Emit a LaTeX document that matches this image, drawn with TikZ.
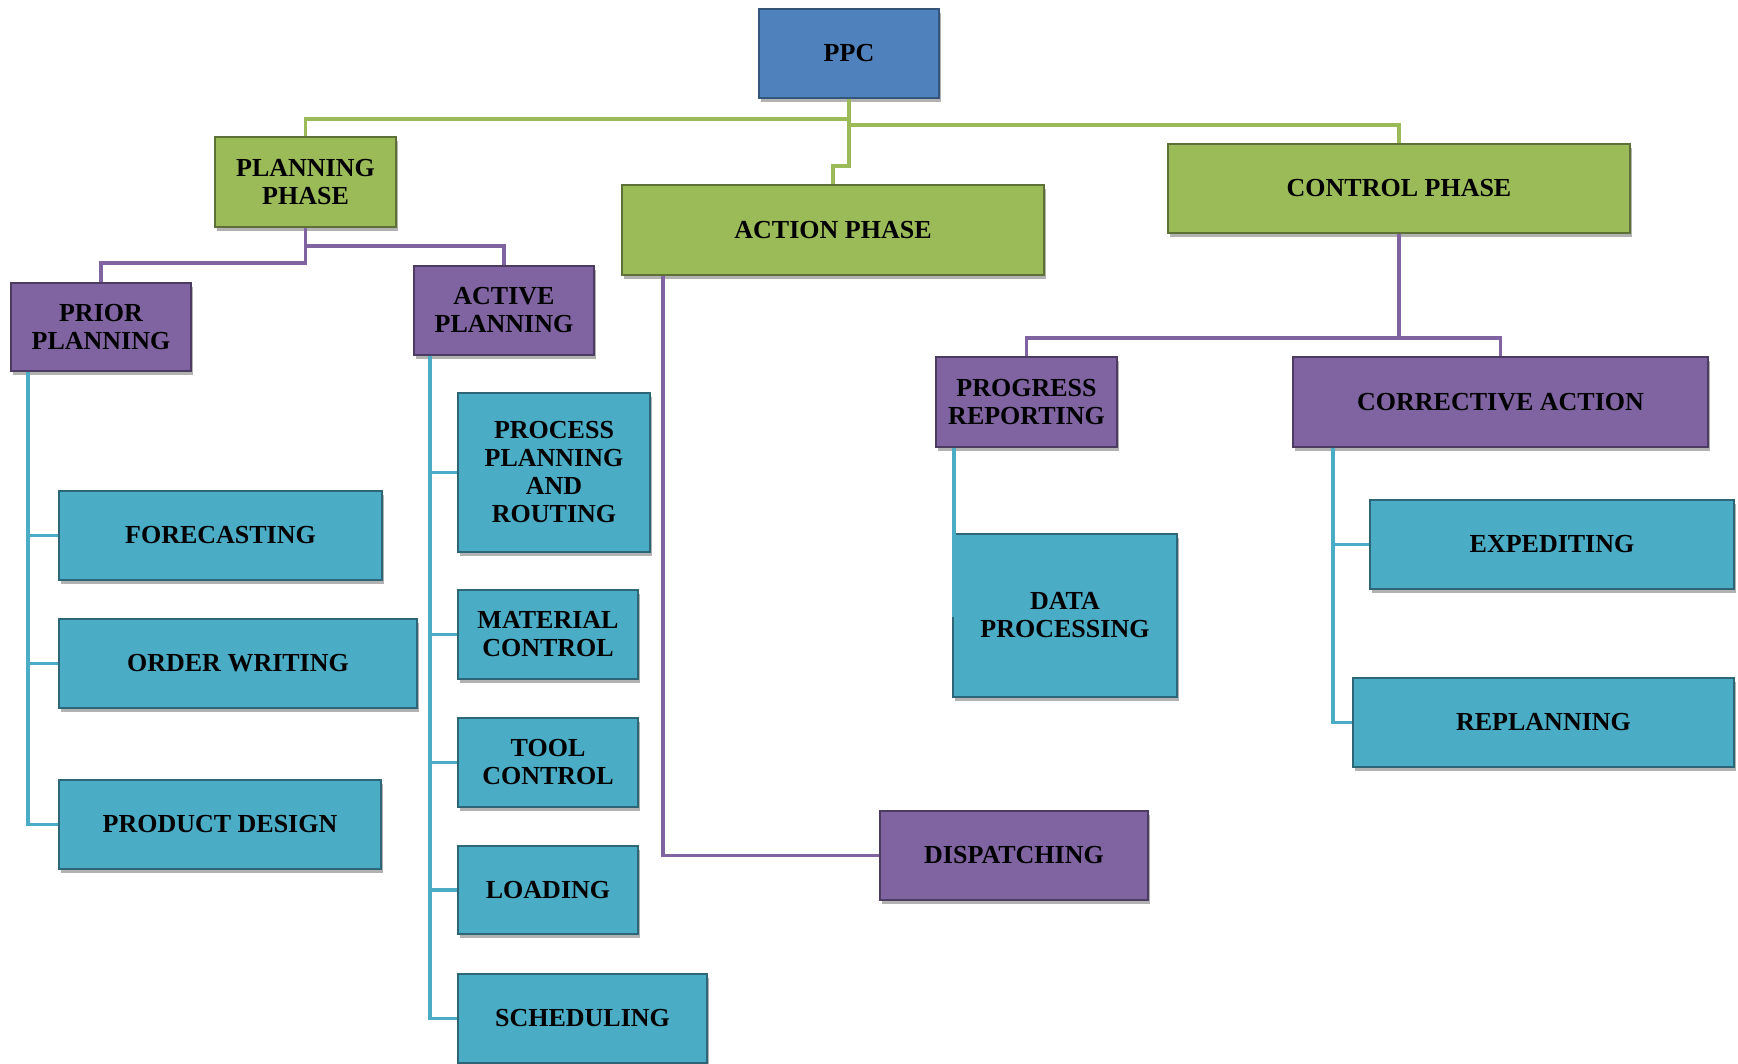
\documentclass[tikz,border=0pt]{standalone}
\usepackage{fontspec}
\setmainfont{Liberation Serif}
\usepackage{tikz}
\usetikzlibrary{positioning,shadows}
\definecolor{ppcblue}{RGB}{79,129,189}
\definecolor{phasegreen}{RGB}{155,187,89}
\definecolor{stepviolet}{RGB}{128,100,162}
\definecolor{taskcyan}{RGB}{75,172,198}
\tikzset{
  box/.style={rectangle, line width=0.7pt, text=black, align=center,
    font=\fontsize{13}{14}\selectfont\bfseries, inner sep=2pt,
    drop shadow={shadow xshift=1.2pt, shadow yshift=-2.2pt, opacity=0.3, fill=black}},
  topbox/.style={box, fill=ppcblue, draw=ppcblue!65!black},
  phasebox/.style={box, fill=phasegreen, draw=phasegreen!60!black},
  stepbox/.style={box, fill=stepviolet, draw=stepviolet!60!black},
  taskbox/.style={box, fill=taskcyan, draw=taskcyan!60!black},
  sz/.style 2 args={minimum width=#1*0.5pt, minimum height=#2*0.5pt},
  gline/.style={draw=phasegreen, line width=1.9pt},
  vline/.style={draw=stepviolet, line width=1.9pt},
  cline/.style={draw=taskcyan, line width=1.9pt}
}

\begin{document}
\begin{tikzpicture}[x=0.5pt, y=-0.5pt]
\useasboundingbox (0,0) rectangle (1738,1064);

% top and phases ==========================
\node[topbox, sz={180}{89}] (ppc) at (849,53.5) {PPC};
\node[phasebox, sz={181}{90}] (plan) at (305.5,182) {PLANNING\\PHASE};
\node[phasebox, sz={422}{90}] (action) at (833,230) {ACTION PHASE};
\node[phasebox, sz={462}{89}] (control) at (1399,188.5) {CONTROL PHASE};

% planning side
\node[stepbox, sz={180}{88}] (prior) at (101,327) {PRIOR\\PLANNING};
\node[stepbox, sz={180}{89}] (active) at (504,310.5) {ACTIVE\\PLANNING};
\node[taskbox, sz={323}{89}] (forecast) at (220.5,535.5) {FORECASTING};
\node[taskbox, sz={358}{89}] (order) at (238,663.5) {ORDER WRITING};
\node[taskbox, sz={322}{89}] (product) at (220,824.5) {PRODUCT DESIGN};
\node[taskbox, sz={192}{159}] (process) at (554,472.5) {PROCESS\\PLANNING\\AND\\ROUTING};
\node[taskbox, sz={180}{89}] (material) at (548,634.5) {MATERIAL\\CONTROL};
\node[taskbox, sz={180}{89}] (tool) at (548,762.5) {TOOL\\CONTROL};
\node[taskbox, sz={180}{88}] (loading) at (548,890) {LOADING};
\node[taskbox, sz={249}{89}] (sched) at (582.5,1018.5) {SCHEDULING};

% action and control side
\node[stepbox, sz={268}{89}] (dispatch) at (1014,855.5) {DISPATCHING};
\node[stepbox, sz={181}{90}] (progress) at (1026.5,402) {PROGRESS\\REPORTING};
\node[stepbox, sz={415}{90}] (corrective) at (1500.5,402) {CORRECTIVE ACTION};
\node[taskbox, sz={224}{163}] (data) at (1065,615.5) {DATA\\PROCESSING};
\node[taskbox, sz={364}{89}] (expedite) at (1552,544.5) {EXPEDITING};
\node[taskbox, sz={381}{89}] (replan) at (1543.5,722.5) {REPLANNING};

% bus levels
\coordinate (gbusA) at (0,119);
\coordinate (gbusB) at (0,125);
\coordinate (gbusC) at (0,166);
\coordinate (vbusA) at (0,263);
\coordinate (vbusB) at (0,246);
\coordinate (vbusC) at (0,338);

% edges
\path[gline] (ppc.south) -- (ppc.south |- gbusA) -| (plan.north);
\path[gline] (ppc.south) -- (ppc.south |- gbusB) -| (control.north);
\path[gline] (ppc.south) -- (ppc.south |- gbusC) -| (action.north);
\path[vline] (plan.south) -- (plan.south |- vbusA) -| (prior.north);
\path[vline] (plan.south) -- (plan.south |- vbusB) -| (active.north);
\path[vline] (control.south) -- (control.south |- vbusC) -| (progress.north);
\path[vline] (control.south) -- (control.south |- vbusC) -| (corrective.north);
\path[vline] ([xshift=21pt]action.south west) |- (dispatch.west);
\path[cline] ([xshift=9pt]prior.south west) |- (forecast.west);
\path[cline] ([xshift=9pt]prior.south west) |- (order.west);
\path[cline] ([xshift=9pt]prior.south west) |- (product.west);
\path[cline] ([xshift=8.5pt]active.south west) |- (process.west);
\path[cline] ([xshift=8.5pt]active.south west) |- (material.west);
\path[cline] ([xshift=8.5pt]active.south west) |- (tool.west);
\path[cline] ([xshift=8.5pt]active.south west) |- (loading.west);
\path[cline] ([xshift=8.5pt]active.south west) |- (sched.west);
\path[cline] ([xshift=9.5pt]progress.south west) |- (data.west);
\path[cline] ([xshift=20.5pt]corrective.south west) |- (expedite.west);
\path[cline] ([xshift=20.5pt]corrective.south west) |- (replan.west);

\end{tikzpicture}
\end{document}
